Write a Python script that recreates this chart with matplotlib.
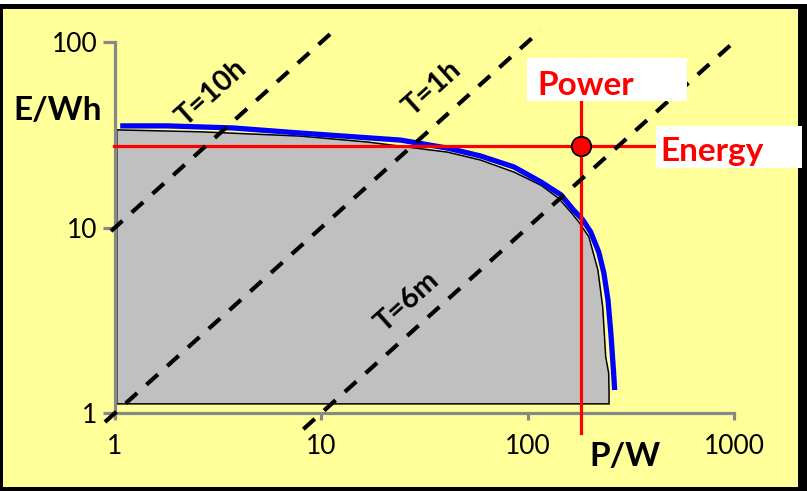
import numpy as np
import matplotlib.pyplot as plt
from matplotlib.patches import Rectangle

plt.rcParams['font.family'] = ['Lato', 'DejaVu Sans']

W, H = 807, 491

# Ragone-Kurve (blau) und grauer Bereich
kurve_p = [1.06, 1.79, 3.74, 7.9, 24.2, 40.8, 59.1, 85.8, 116, 145, 167, 185, 202,
           221, 234, 245, 253, 261, 264]
kurve_e = [35.3, 35.3, 34.4, 32.3, 29.6, 26.8, 24.3, 21.2, 17.6, 15.0, 12.4, 11.0, 9.46,
           7.38, 5.69, 4.07, 2.70, 1.64, 1.33]

flaeche_p = [1.02, 1.02, 2.59, 7.9, 16.7, 40.8, 59.1, 85.8, 116, 141, 162, 177, 198,
             219, 231, 239, 247, 248, 248]
flaeche_e = [1.12, 33.6, 32.8, 31.1, 28.9, 25.5, 23.1, 19.9, 16.9, 14.4, 12.1, 10.7, 8.9,
             5.9, 3.73, 2.0, 1.64, 1.3, 1.12]

# Arbeitspunkt
punkt_p = 181
punkt_e = 27.5
energie_linie_p = [0.99, 423]
leistung_linie_e = [0.78, 48.8]

# Entladezeiten in Stunden, E = T * P
zeiten = [10, 1, 0.1]
zeit_namen = ['T=10h', 'T=1h', 'T=6m']
zeit_bereiche = [(0.956, 11.4), (0.894, 116), (8.18, 1059)]

x_ticks = [1, 10, 100, 1000]
y_ticks = [1, 10, 100]


def px(x, y):
    # Pixel im Bild -> Figure-Koordinaten
    return x / W, 1 - y / H


fig = plt.figure(figsize=(W / 100, H / 100), dpi=100)
fig.patch.set_facecolor('white')
fig.patches.append(Rectangle((0, 0), 1, 487 / H, transform=fig.transFigure,
                             facecolor='black', edgecolor='none', zorder=-3))
fig.patches.append(Rectangle((3 / W, 4 / H), 795 / W, 478 / H, transform=fig.transFigure,
                             facecolor='#FFFF99', edgecolor='none', zorder=-2))

ax = fig.add_axes([115 / W, 78 / H, 619 / W, 371 / H])
ax.set_facecolor('none')
ax.set_xscale('log')
ax.set_yscale('log')
ax.set_xlim(1, 1000)
ax.set_ylim(1, 100)

# grauer Bereich
ax.fill(flaeche_p, flaeche_e, facecolor='#C0C0C0', edgecolor='black', lw=1.1, zorder=2)
# blaue Kurve
ax.plot(kurve_p, kurve_e, color='#0000FF', lw=3.8, solid_capstyle='butt',
        solid_joinstyle='round', zorder=3)

# rote Linien
ax.plot(energie_linie_p, [punkt_e, punkt_e], color='#FF0000', lw=2.3, clip_on=False, zorder=4)
ax.plot([punkt_p, punkt_p], leistung_linie_e, color='#FF0000', lw=2.3, clip_on=False, zorder=4)

# gestrichelte Linien
for T, (p0, p1) in zip(zeiten, zeit_bereiche):
    p = np.array([p0, p1])
    ax.plot(p, T * p, color='black', lw=3, ls=(0, (3.7, 3.0)), clip_on=False, zorder=5)

ax.plot(punkt_p, punkt_e, 'o', ms=14, mfc='#FF0000', mec='black', mew=1.3,
        clip_on=False, zorder=6)

# Achsen
for s in ['top', 'right']:
    ax.spines[s].set_visible(False)
for s in ['left', 'bottom']:
    ax.spines[s].set_color('#888888')
    ax.spines[s].set_linewidth(2.3)
ax.minorticks_off()
ax.set_xticks(x_ticks, [str(v) for v in x_ticks])
ax.set_yticks(y_ticks, [str(v) for v in y_ticks])
ax.tick_params(color='#888888', width=2.3, labelsize=19)
ax.tick_params(axis='y', length=8.5, pad=4)
ax.tick_params(axis='x', length=5, pad=10)

# Beschriftungen
fig.text(*px(58, 110), 'E/Wh', fontsize=24, fontweight='bold', ha='center', va='center')
fig.text(*px(625, 457), 'P/W', fontsize=24, fontweight='bold', ha='center', va='center')

zeit_pos = [(212, 93), (432, 88), (407, 302)]
for name, (x, y) in zip(zeit_namen, zeit_pos):
    fig.text(*px(x, y), name, fontsize=21, fontweight='bold', rotation=42,
             rotation_mode='anchor', ha='center', va='center')

fig.patches.append(Rectangle(px(527, 101), 160 / W, 43 / H, transform=fig.transFigure,
                             facecolor='white', edgecolor='none', zorder=5))
fig.text(*px(537, 95), 'Power', fontsize=24, fontweight='bold', color='#FF0000',
         ha='left', va='baseline', zorder=6)
fig.patches.append(Rectangle(px(656, 168), 146 / W, 42 / H, transform=fig.transFigure,
                             facecolor='white', edgecolor='none', zorder=5))
fig.text(*px(660, 161), 'Energy', fontsize=24, fontweight='bold', color='#FF0000',
         ha='left', va='baseline', zorder=6)

fig.savefig('out.png', dpi=100)
